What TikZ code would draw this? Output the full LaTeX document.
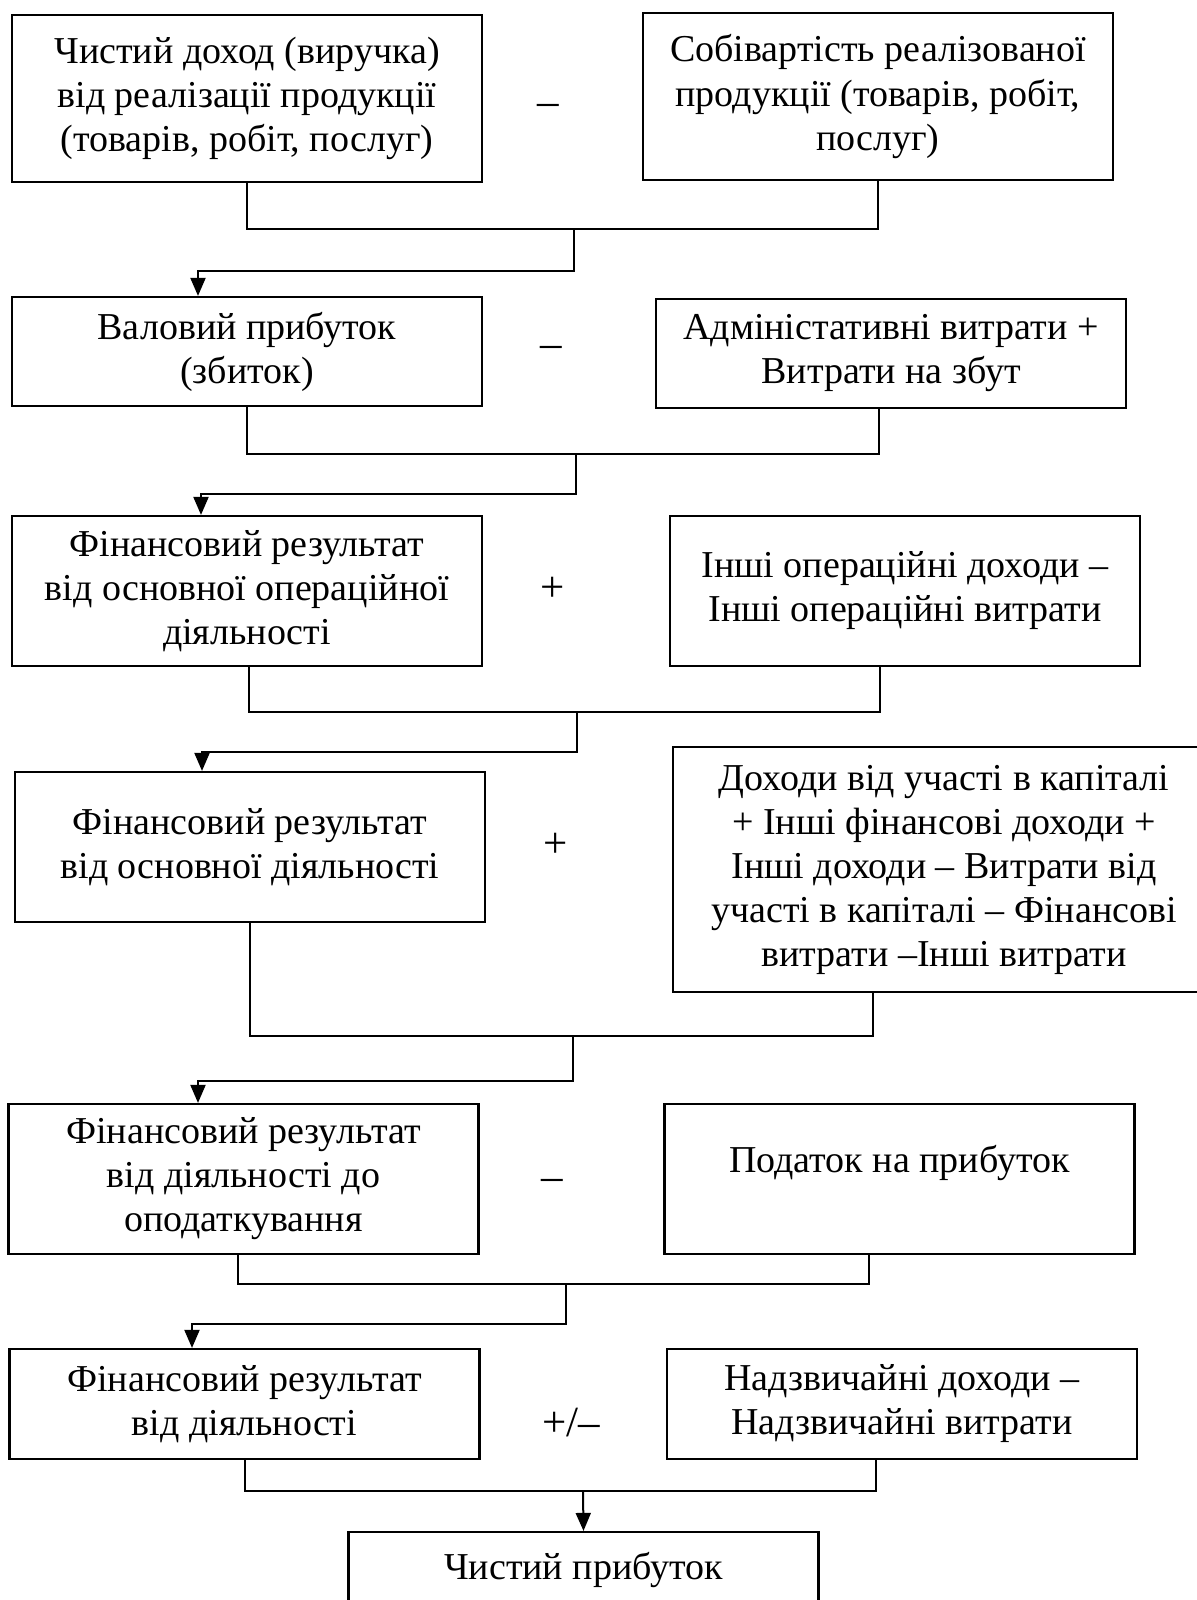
\documentclass[tikz,border=0pt]{standalone}
\usepackage{fontspec}
\setmainfont{Liberation Serif}
\usetikzlibrary{arrows.meta}

\begin{document}
\begin{tikzpicture}[
  x=0.5pt, y=-0.5pt,
  every node/.style={font=\fontsize{19}{22}\selectfont},
  blok/.style={draw, line width=1.1pt, align=center, inner sep=0pt, minimum width=235pt},
  znak/.style={inner sep=0pt, font=\fontsize{21.5}{24}\selectfont, text height=13pt, text depth=2pt},
  lin/.style={line width=1pt},
  strl/.style={lin, -{Triangle[length=9pt,width=7.5pt]}}
]
\useasboundingbox (0,0) rectangle (1197,1600);

% row 1
\node[blok, minimum height=83.5pt] (b1) at (247,98.5) {Чистий доход (виручка)\\від реалізації продукції\\(товарів, робіт, послуг)};
\node[blok, minimum height=83.5pt] (r1) at (878,96.5) {Собівартість реалізованої\\продукції (товарів, робіт,\\послуг)};
\node[znak] (o1) at (548,105) {–};
% row 2
\node[blok, minimum height=54.5pt] (b2) at (247,351.5) {Валовий прибуток\\(збиток)};
\node[blok, minimum height=54.5pt] (r2) at (891,353.5) {Адміністативні витрати +\\Витрати на збут};
\node[znak] (o2) at (551,346) {–};
% row 3
\node[blok, minimum height=75pt] (b3) at (247,591) {Фінансовий результат\\від основної операційної\\діяльності};
\node[blok, minimum height=75pt] (r3) at (905,591) {Інші операційні доходи –\\Інші операційні витрати};
\node[znak] (o3) at (553,590) {+};
% row 4
\node[blok, minimum height=75pt] (b4) at (250,847) {Фінансовий результат\\від основної діяльності};
\node[blok, minimum height=122.5pt, minimum width=271pt] (r4) at (944,869.5) {Доходи від участі в капіталі\\+ Інші фінансові доходи +\\Інші доходи – Витрати від\\участі в капіталі – Фінансові\\витрати –Інші витрати};
\node[znak] (o4) at (556,846) {+};
% row 5
\node[blok, minimum height=75pt] (b5) at (243.5,1179) {Фінансовий результат\\від діяльності до\\оподаткування};
\node[blok, minimum height=75pt, text depth=20pt] (r5) at (899.5,1179) {Податок на прибуток};
\node[znak] (o5) at (552,1179) {–};
% row 6
\node[blok, minimum height=55pt] (b6) at (244.5,1404) {Фінансовий результат\\від діяльності};
\node[blok, minimum height=55pt] (r6) at (902,1404) {Надзвичайні доходи –\\Надзвичайні витрати};
\node[znak] (o6) at (571,1425) {+/–};
% result
\node[blok, minimum height=38pt] (fin) at (583.5,1570) {Чистий прибуток};

% junctions and bends
\coordinate (m1) at (574,229);  \coordinate (a1) at (198,271);
\coordinate (m2) at (576,454);  \coordinate (a2) at (201,494);
\coordinate (m3) at (577,712);  \coordinate (a3) at (202,752);
\coordinate (m4) at (573,1036); \coordinate (a4) at (198,1081);
\coordinate (m5) at (566,1284); \coordinate (a5) at (192,1324);
\coordinate (m6) at (583,1491);

\draw[lin] (b1.south) |- (m1) -| (r1.south);
\draw[strl] (m1) |- (a1) -- (a1 |- b2.north);
\draw[lin] (b2.south) |- (m2) -| ([xshift=-6pt]r2.south);
\draw[strl] (m2) |- (a2) -- (a2 |- b3.north);
\draw[lin] ([xshift=1pt]b3.south) |- (m3) -| ([xshift=-12.5pt]r3.south);
\draw[strl] (m3) |- (a3) -- (a3 |- b4.north);
\draw[lin] (b4.south) |- (m4) -| ([xshift=-35.5pt]r4.south);
\draw[strl] (m4) |- (a4) -- (a4 |- b5.north);
\draw[lin] ([xshift=-2.75pt]b5.south) |- (m5) -| ([xshift=-15.25pt]r5.south);
\draw[strl] (m5) |- (a5) -- (a5 |- b6.north);
\draw[lin] (b6.south) |- (m6) -| ([xshift=-13pt]r6.south);
\draw[strl] (m6) -- (fin.north);
\end{tikzpicture}
\end{document}
